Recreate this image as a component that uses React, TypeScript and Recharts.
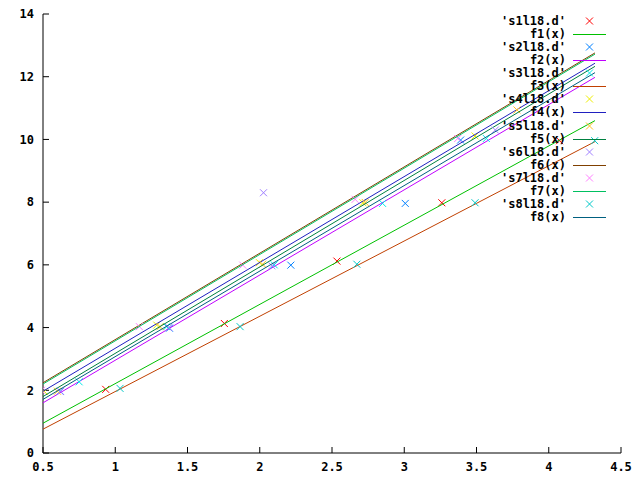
import React from "react";
import { Scatter, ScatterChart, XAxis, YAxis } from "recharts";

// measured points (x, y) per data file
const S1 = [[0.934, 2.03], [1.755, 4.13], [2.534, 6.12], [3.26, 7.98], [4.075, 9.96]];
const S2 = [[0.62, 1.97], [1.375, 3.98], [2.215, 5.99], [3.007, 7.96], [3.39, 9.98]];
const S3 = [[0.75, 2.27], [1.356, 4.03], [2.1, 6.0], [2.85, 7.96], [3.568, 10.03]];
const S4 = [[0.51, 1.96], [1.287, 4.08], [1.998, 6.07], [2.714, 7.98], [3.49, 10.11]];
const S5 = [[0.6, 1.97], [1.31, 4.03], [2.02, 6.02], [2.73, 7.99], [3.78, 10.94]];
const S6 = [[0.62, 1.96], [1.37, 4.0], [2.084, 5.97], [2.026, 8.3], [3.63, 10.3]];
const S7 = [[0.49, 2.0], [1.167, 4.03], [1.883, 5.99], [2.66, 8.09], [3.37, 10.03]];
const S8 = [[1.033, 2.06], [1.864, 4.03], [2.672, 6.02], [3.49, 7.98], [4.318, 9.96]];

// fitted lines, value at each end of FIT_X
const FIT_X = [0.5, 4.32];
const F1 = [0.95, 10.6];
const F2 = [1.6, 11.98];
const F3 = [0.76, 9.93];
const F4 = [1.97, 12.43];
const F5 = [1.8, 12.33];
const F6 = [2.24, 12.76];
const F7 = [2.2, 12.72];
const F8 = [1.71, 12.13];

const X_TICKS = [0.5, 1, 1.5, 2, 2.5, 3, 3.5, 4, 4.5];
const Y_TICKS = [0, 2, 4, 6, 8, 10, 12, 14];

const POINT_SETS = [
  { name: "'s1l18.d'", color: "#ff0000", pts: S1 },
  { name: "'s2l18.d'", color: "#0080ff", pts: S2 },
  { name: "'s3l18.d'", color: "#00e8e8", pts: S3 },
  { name: "'s4l18.d'", color: "#eeee00", pts: S4 },
  { name: "'s5l18.d'", color: "#ffc020", pts: S5 },
  { name: "'s6l18.d'", color: "#a080ff", pts: S6 },
  { name: "'s7l18.d'", color: "#ff80ff", pts: S7 },
  { name: "'s8l18.d'", color: "#00c8c8", pts: S8 },
];

const FITS = [
  { name: "f1(x)", color: "#00c000", ys: F1 },
  { name: "f2(x)", color: "#c000ff", ys: F2 },
  { name: "f3(x)", color: "#c04000", ys: F3 },
  { name: "f4(x)", color: "#2020c0", ys: F4 },
  { name: "f5(x)", color: "#008040", ys: F5 },
  { name: "f6(x)", color: "#804000", ys: F6 },
  { name: "f7(x)", color: "#00c060", ys: F7 },
  { name: "f8(x)", color: "#006080", ys: F8 },
];

const FONT = "'DejaVu Sans Mono', monospace";

function Cross(props: any) {
  const { cx, cy, fill } = props;
  if (cx == null || cy == null) return null;
  const r = 3.5;
  return (
    <path
      d={`M${cx - r},${cy - r}L${cx + r},${cy + r}M${cx - r},${cy + r}L${cx + r},${cy - r}`}
      stroke={fill}
      strokeWidth={1}
      fill="none"
    />
  );
}

function Key() {
  const rows: Array<{ name: string; color: string; kind: "pt" | "ln" }> = [];
  POINT_SETS.forEach((s, i) => {
    rows.push({ name: s.name, color: s.color, kind: "pt" });
    rows.push({ name: FITS[i].name, color: FITS[i].color, kind: "ln" });
  });
  return (
    <div style={{ position: "absolute", left: 0, top: 0, width: 640, pointerEvents: "none" }}>
      {rows.map((row, i) => {
        const cy = 21 + i * 13.07;
        return (
          <div key={row.name} style={{ position: "absolute", top: cy - 7, left: 0, width: 640, height: 14 }}>
            <span
              style={{
                position: "absolute",
                right: 640 - 566,
                top: 0,
                fontFamily: FONT,
                fontWeight: "bold",
                fontSize: 12,
                lineHeight: "14px",
                color: "#000",
                whiteSpace: "pre",
              }}
            >
              {row.name}
            </span>
            <svg style={{ position: "absolute", left: 570, top: 0 }} width={40} height={14}>
              {row.kind === "pt" ? (
                <Cross cx={19.5} cy={7} fill={row.color} />
              ) : (
                <line x1={3} x2={36} y1={7.5} y2={7.5} stroke={row.color} strokeWidth={1} shapeRendering="crispEdges" />
              )}
            </svg>
          </div>
        );
      })}
    </div>
  );
}

export default function App() {
  const tickStyle = { fill: "#000", fontSize: 12, fontFamily: FONT, fontWeight: "bold" };
  return (
    <div style={{ position: "absolute", left: 0, top: 0, width: 640, height: 480, background: "#fff" }}>
      <ScatterChart width={640} height={480} margin={{ top: 14, right: 19, bottom: 0, left: 0 }}>
        <XAxis
          xAxisId={0}
          type="number"
          dataKey="x"
          domain={[0.5, 4.5]}
          ticks={X_TICKS}
          allowDataOverflow
          height={27}
          stroke="#000"
          tickSize={-6}
          tickMargin={15}
          tick={tickStyle}
        />
        <XAxis
          xAxisId="top"
          orientation="top"
          type="number"
          dataKey="x"
          domain={[0.5, 4.5]}
          ticks={X_TICKS}
          allowDataOverflow
          height={0}
          stroke="#000"
          tickSize={-6}
          tick={false}
        />
        <YAxis
          yAxisId={0}
          type="number"
          dataKey="y"
          domain={[0, 14]}
          ticks={Y_TICKS}
          allowDataOverflow
          width={43}
          stroke="#000"
          tickSize={-6}
          tickMargin={15}
          tick={tickStyle}
        />
        <YAxis
          yAxisId="right"
          orientation="right"
          type="number"
          dataKey="y"
          domain={[0, 14]}
          ticks={Y_TICKS}
          allowDataOverflow
          width={0}
          stroke="#000"
          tickSize={-6}
          tick={false}
        />
        {POINT_SETS.map((s, i) => (
          <React.Fragment key={s.name}>
            <Scatter
              name={s.name}
              data={s.pts.map(([x, y]) => ({ x, y }))}
              fill={s.color}
              shape={Cross}
              isAnimationActive={false}
            />
            <Scatter
              name={FITS[i].name}
              data={FIT_X.map((x, j) => ({ x, y: FITS[i].ys[j] }))}
              fill={FITS[i].color}
              line={{ stroke: FITS[i].color, strokeWidth: 1 }}
              shape={() => <g />}
              isAnimationActive={false}
            />
          </React.Fragment>
        ))}
      </ScatterChart>
      <Key />
    </div>
  );
}
